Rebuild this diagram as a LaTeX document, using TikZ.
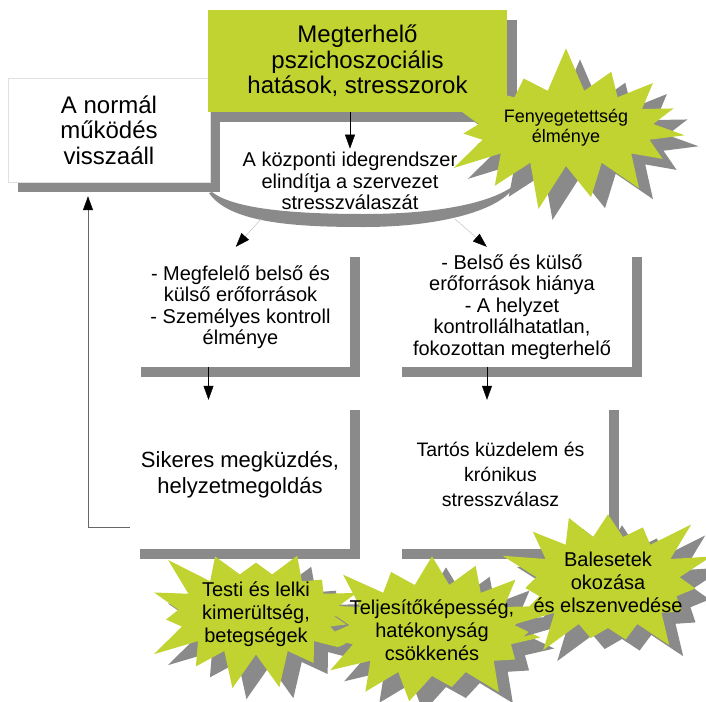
\documentclass[tikz,border=0pt]{standalone}
\usepackage{fontspec}
\setmainfont{Liberation Sans}
\usetikzlibrary{shapes.symbols,shadows,arrows.meta}

\definecolor{burstgreen}{RGB}{192,211,48}
\definecolor{shadowgray}{RGB}{138,138,138}

\tikzset{
	boxshadow/.style={drop shadow={shadow xshift=10pt, shadow yshift=-10pt, fill=shadowgray, opacity=1}},
	whitebox/.style={rectangle, fill=white, boxshadow, align=center, inner sep=0pt},
	greenbox/.style={whitebox, fill=burstgreen},
	burst/.style={starburst, fill=burstgreen, align=center, inner sep=0pt, starburst points=15,
		starburst point height=42pt,
		drop shadow={shadow xshift=14pt, shadow yshift=-11pt, fill=shadowgray, opacity=1}},
	arr/.style={-{Triangle[width=10pt, length=14pt, color=black]}},
	bigtext/.style={font=\fontsize{24}{25.5}\selectfont},
	midtext/.style={font=\fontsize{20}{21.5}\selectfont},
	bursttext/.style={align=center, font=\fontsize{20}{23}\selectfont}
}

\begin{document}
\begin{tikzpicture}[x=1pt, y=-1pt]

		\useasboundingbox (0,0) rectangle (706,701);

		% draw top boxes
		\node[whitebox, draw=black!12, bigtext, minimum width=202pt, minimum height=104pt] (normal) at (109,130) {A normál\\működés\\visszaáll};
		\node[greenbox, bigtext, minimum width=299pt, minimum height=102pt] (stress) at (357.5,61) {Megterhelő\\pszichoszociális\\hatások, stresszorok};

		% crescent below the central text
		\fill[shadowgray] (209,193) .. controls (230,224) and (300,227) .. (364,227)
			.. controls (430,227) and (492,214) .. (512,190) -- (516,184)
			.. controls (490,205) and (430,214) .. (364,214)
			.. controls (300,214) and (235,210) .. (212,192) -- cycle;
		\node[align=center, midtext] (cns) at (350,181) {A központi idegrendszer\\elindítja a szervezet\\stresszválaszát};
		\coordinate (cresL) at (262,218);
		\coordinate (cresR) at (455,219);

		\node[burst, font=\fontsize{18}{20}\selectfont, minimum width=256pt, minimum height=168pt,
			starburst point height=46pt, random starburst=7] (threat) at (566,128) {Fenyegetettség\\élménye};

		% draw middle boxes
		\node[whitebox, midtext, minimum width=219pt, minimum height=120pt] (ok) at (240.5,307) {- Megfelelő belső és\\külső erőforrások\\- Személyes kontroll\\élménye};
		\node[whitebox, midtext, minimum width=240pt, minimum height=120pt] (fail) at (512,307) {- Belső és külső\\erőforrások hiánya\\- A helyzet\\kontrollálhatatlan,\\fokozottan megterhelő};

		% draw bottom boxes
		\node[whitebox, font=\fontsize{22}{26}\selectfont, minimum width=220pt, minimum height=149pt] (coping) at (240,474.5) {Sikeres megküzdés,\\helyzetmegoldás};
		\node[whitebox, font=\fontsize{19.5}{25}\selectfont, minimum width=217pt, minimum height=149pt] (chronic) at (500.5,474.5) {Tartós küzdelem és\\krónikus\\stresszválasz};

		% arrows
		\draw[arr] (stress.south -| cns.north) -- (cns.north);
		\draw[arr, gray!55] (cresL) -- ([xshift=105pt]ok.north west);
		\draw[arr, gray!55] (cresR) -- ([xshift=95pt]fail.north west);
		\draw[arr] ([xshift=-32pt]ok.south) -- ([xshift=-32pt]ok.south |- coping.north);
		\draw[arr] ([xshift=-25pt]fail.south) -- ([xshift=-25pt]fail.south |- chronic.north);
		\draw[arr, black!60, line width=0.6pt] ([yshift=22pt]coping.south west) -| ([xshift=-21pt, yshift=-14pt]normal.south);

		% consequences: shapes first, labels on top
		\node[burst, minimum width=240pt, minimum height=165pt, random starburst=23] (health) at (256,614) {};
		\node[burst, minimum width=250pt, minimum height=176pt, random starburst=41] (perform) at (432,630) {};
		\node[burst, minimum width=228pt, minimum height=176pt, random starburst=12] (accident) at (608,582) {};
		\node[bursttext] (healthlabel) at (health) {Testi és lelki\\kimerültség,\\betegségek};
		\node[bursttext] (performlabel) at (perform) {Teljesítőképesség,\\hatékonyság\\csökkenés};
		\node[bursttext] (accidentlabel) at (accident) {Balesetek\\okozása\\és elszenvedése};

\end{tikzpicture}
\end{document}
